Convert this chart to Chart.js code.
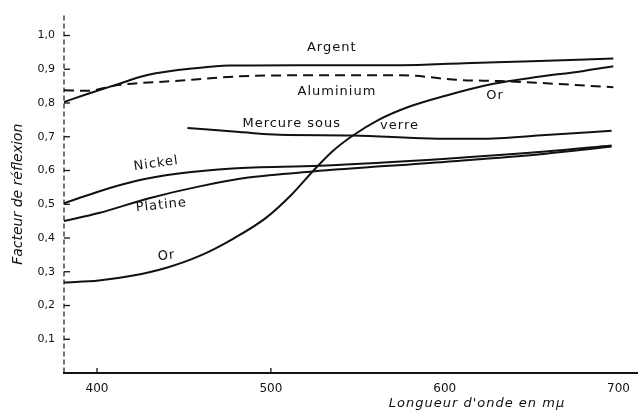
<!DOCTYPE html>
<html lang="fr">
<head>
<meta charset="utf-8">
<script src="https://cdn.jsdelivr.net/npm/chart.js@4.4.1/dist/chart.umd.min.js"></script>
<style>
  html, body { margin: 0; padding: 0; background: #fff; }
</style>
</head>
<body>
<canvas id="chart" width="639" height="420"></canvas>
<script>
// Longueurs d'onde (mμ) et facteurs de réflexion
const argentWl = [381, 394, 412, 429, 458, 476, 516, 575, 611, 650, 697];
const argentR  = [0.803, 0.826, 0.856, 0.883, 0.904, 0.911, 0.912, 0.912, 0.918, 0.924, 0.932];

const aluWl = [381, 394, 412, 444, 482, 515, 575, 609, 632, 697];
const aluR  = [0.838, 0.836, 0.853, 0.865, 0.879, 0.882, 0.882, 0.868, 0.865, 0.847];

const orWl = [381, 401, 420, 440, 459, 478, 497, 512, 524, 535, 547, 562, 579, 600, 628, 650, 680, 697];
const orR  = [0.268, 0.274, 0.288, 0.312, 0.347, 0.397, 0.459, 0.529, 0.597, 0.655, 0.703, 0.750, 0.788, 0.821, 0.857, 0.875, 0.895, 0.909];

const mercureWl = [452, 482, 505, 547, 591, 620, 658, 696];
const mercureR  = [0.726, 0.714, 0.706, 0.704, 0.695, 0.694, 0.705, 0.718];

const nickelWl = [381, 401, 424, 447, 478, 528, 601, 658, 696];
const nickelR  = [0.503, 0.538, 0.571, 0.591, 0.606, 0.614, 0.635, 0.656, 0.674];

const platineWl = [381, 401, 430, 459, 487, 524, 601, 658, 696];
const platineR  = [0.450, 0.474, 0.518, 0.553, 0.579, 0.597, 0.626, 0.650, 0.671];

const xTickValues = [400, 500, 600, 700];
const yTickValues = [0.1, 0.2, 0.3, 0.4, 0.5, 0.6, 0.7, 0.8, 0.9, 1.0];

// Noms écrits sur les courbes : [texte, longueur d'onde, facteur, rotation en degrés]
const curveLabels = [
  ['Argent', 535, 0.965, 0],
  ['Aluminium', 538, 0.835, 0],
  ['Or', 629, 0.821, 0],
  ['Mercure sous', 512, 0.738, 0],
  ['verre', 574, 0.732, 0],
  ['Nickel', 434, 0.620, -8],
  ['Platine', 437, 0.497, -6],
  ['Or', 440, 0.347, -6]
];

const ink = '#111';

function toPoints(wl, r) {
  return wl.map((w, i) => ({ x: w, y: r[i] }));
}

function curve(label, wl, r, dash) {
  return {
    label,
    data: toPoints(wl, r),
    borderColor: ink,
    borderWidth: 2,
    borderDash: dash || [],
    pointRadius: 0,
    fill: false,
    cubicInterpolationMode: 'monotone'
  };
}

// Axe vertical en tirets, petits traits vers l'intérieur, étiquettes et titre de l'axe x
const annotate = {
  id: 'annotate',
  afterDatasetsDraw(chart) {
    const { ctx, scales: { x, y } } = chart;
    ctx.save();
    ctx.strokeStyle = ink;
    ctx.lineWidth = 1.2;
    ctx.setLineDash([5, 3]);
    ctx.beginPath();
    ctx.moveTo(x.left, y.top);
    ctx.lineTo(x.left, y.bottom);
    ctx.stroke();
    ctx.setLineDash([]);

    ctx.lineWidth = 1.3;
    yTickValues.forEach(v => {
      const py = y.getPixelForValue(v);
      ctx.beginPath();
      ctx.moveTo(x.left, py);
      ctx.lineTo(x.left + 6, py);
      ctx.stroke();
    });
    [400, 500].forEach(v => {
      const px = x.getPixelForValue(v);
      ctx.beginPath();
      ctx.moveTo(px, y.bottom);
      ctx.lineTo(px, y.bottom - 5);
      ctx.stroke();
    });

    ctx.fillStyle = ink;
    ctx.font = '13px "DejaVu Sans"';
    ctx.letterSpacing = '1px';
    ctx.textAlign = 'center';
    ctx.textBaseline = 'middle';
    curveLabels.forEach(([text, wl, r, rot]) => {
      ctx.save();
      ctx.translate(x.getPixelForValue(wl), y.getPixelForValue(r));
      ctx.rotate(rot * Math.PI / 180);
      ctx.fillText(text, 0, 0);
      ctx.restore();
    });

    ctx.font = 'italic 13px "DejaVu Sans"';
    ctx.fillText("Longueur d'onde en mμ", 477, 404);
    ctx.restore();
  }
};

new Chart(document.getElementById('chart'), {
  type: 'line',
  data: {
    datasets: [
      curve('Argent', argentWl, argentR),
      curve('Aluminium', aluWl, aluR, [10, 6]),
      curve('Or', orWl, orR),
      curve('Mercure sous verre', mercureWl, mercureR),
      curve('Nickel', nickelWl, nickelR),
      curve('Platine', platineWl, platineR)
    ]
  },
  plugins: [annotate],
  options: {
    responsive: false,
    animation: false,
    layout: { padding: { top: 13, left: 0, right: 0, bottom: 0 } },
    plugins: {
      legend: { display: false },
      tooltip: { enabled: false }
    },
    scales: {
      x: {
        type: 'linear',
        min: 381,
        max: 711,
        afterBuildTicks: scale => { scale.ticks = xTickValues.map(v => ({ value: v })); },
        afterFit: scale => { scale.height = 47; },
        grid: { display: false, drawTicks: false },
        border: { display: true, color: ink, width: 2 },
        ticks: {
          color: ink,
          padding: 9,
          maxRotation: 0,
          font: { family: 'DejaVu Sans', size: 12 }
        }
      },
      y: {
        type: 'linear',
        min: 0,
        max: 1.059,
        afterBuildTicks: scale => { scale.ticks = yTickValues.map(v => ({ value: v })); },
        afterFit: scale => { scale.width = 64; },
        grid: { display: false, drawTicks: false },
        border: { display: false },
        ticks: {
          color: ink,
          padding: 9,
          font: { family: 'DejaVu Sans', size: 11 },
          callback: v => v.toFixed(1).replace('.', ',')
        },
        title: {
          display: true,
          text: 'Facteur de réflexion',
          color: ink,
          padding: { top: 10, bottom: 0 },
          font: { family: 'DejaVu Sans', size: 14, style: 'italic' }
        }
      }
    }
  }
});
</script>
</body>
</html>
